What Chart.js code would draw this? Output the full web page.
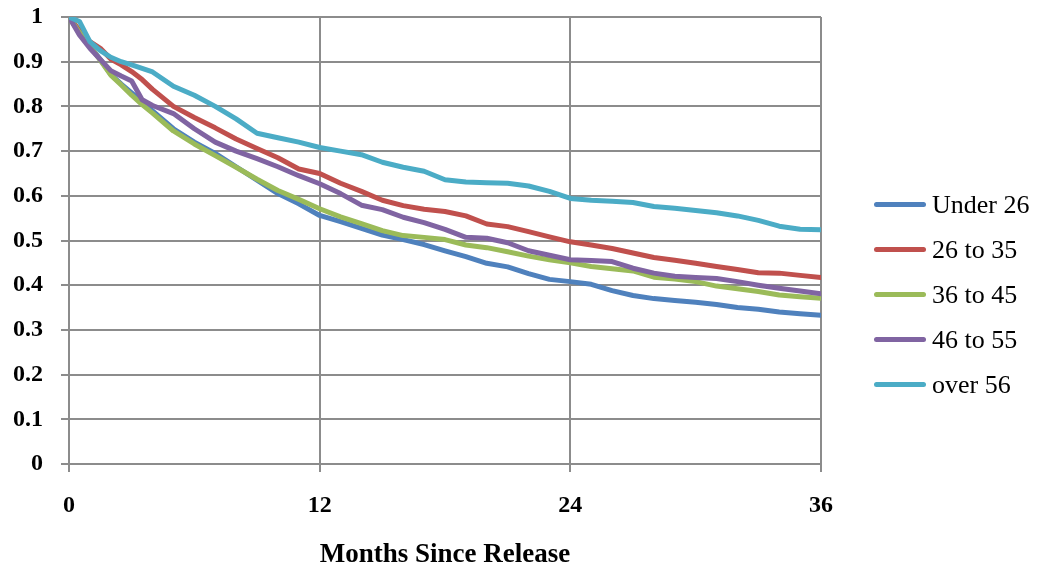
<!DOCTYPE html>
<html>
<head>
<meta charset="utf-8">
<script src="https://cdn.jsdelivr.net/npm/chart.js@4/dist/chart.umd.min.js"></script>
<style>
  html, body { margin: 0; padding: 0; background: #fff; }
  #wrap { position: relative; width: 1039px; height: 571px; }
  #legenda { position: absolute; left: 871px; top: 182px; font-family: 'Liberation Serif'; font-size: 26px; color: #000; }
  .item { height: 45px; display: flex; align-items: center; white-space: nowrap; }
  .traco { width: 52px; height: 5px; border-radius: 3px; margin: 0 6px 0 3px; }
</style>
</head>
<body>
<div id="wrap">
  <canvas id="grafico" width="1039" height="571"></canvas>
  <div id="legenda"></div>
</div>
<script>
// meses desde a soltura
var meses = [0, 0.5, 1, 1.5, 2, 2.5, 3, 3.5, 4, 5, 6, 7, 8, 9, 10, 11, 12, 13, 14, 15, 16, 17, 18,
  19, 20, 21, 22, 23, 24, 25, 26, 27, 28, 29, 30, 31, 32, 33, 34, 35, 36];

var under26 = [1, 0.965, 0.935, 0.905, 0.872, 0.85, 0.83, 0.81, 0.79, 0.75, 0.72, 0.695, 0.665, 0.635,
  0.605, 0.582, 0.556, 0.542, 0.527, 0.512, 0.502, 0.491, 0.477, 0.464, 0.449, 0.441, 0.426, 0.413,
  0.408, 0.402, 0.388, 0.377, 0.37, 0.366, 0.362, 0.357, 0.35, 0.346, 0.34, 0.336, 0.333];
var de26a35 = [1, 0.97, 0.945, 0.93, 0.906, 0.893, 0.878, 0.86, 0.838, 0.8, 0.775, 0.752, 0.727, 0.706,
  0.685, 0.66, 0.65, 0.628, 0.61, 0.59, 0.578, 0.57, 0.565, 0.555, 0.537, 0.531, 0.52, 0.508,
  0.497, 0.49, 0.482, 0.472, 0.462, 0.456, 0.449, 0.442, 0.435, 0.428, 0.427, 0.422, 0.417];
var de36a45 = [1, 0.965, 0.935, 0.903, 0.87, 0.848, 0.825, 0.804, 0.785, 0.745, 0.716, 0.69, 0.664, 0.637,
  0.612, 0.592, 0.571, 0.553, 0.538, 0.522, 0.511, 0.507, 0.502, 0.49, 0.484, 0.475, 0.465, 0.457,
  0.45, 0.442, 0.437, 0.432, 0.418, 0.414, 0.408, 0.398, 0.392, 0.386, 0.378, 0.374, 0.371];
var de46a55 = [1, 0.96, 0.93, 0.905, 0.88, 0.868, 0.857, 0.815, 0.802, 0.784, 0.75, 0.72, 0.7, 0.683,
  0.665, 0.645, 0.627, 0.605, 0.579, 0.569, 0.552, 0.54, 0.525, 0.507, 0.505, 0.495, 0.477, 0.467,
  0.457, 0.455, 0.453, 0.438, 0.427, 0.42, 0.417, 0.415, 0.408, 0.4, 0.393, 0.387, 0.381];
var over56 = [1, 0.99, 0.945, 0.925, 0.91, 0.9, 0.893, 0.885, 0.877, 0.845, 0.825, 0.8, 0.772, 0.74,
  0.73, 0.72, 0.708, 0.7, 0.692, 0.675, 0.664, 0.655, 0.636, 0.631, 0.629, 0.628, 0.622, 0.61,
  0.594, 0.59, 0.588, 0.585, 0.576, 0.572, 0.567, 0.562, 0.555, 0.545, 0.532, 0.525, 0.524];

var nomes = ['Under 26', '26 to 35', '36 to 45', '46 to 55', 'over 56'];
var cores = ['#4F81BD', '#C0504D', '#9BBB59', '#8064A2', '#4BACC6'];
var series = [under26, de26a35, de36a45, de46a55, over56];
var ticksX = [0, 12, 24, 36];
var ticksY = [0, 0.1, 0.2, 0.3, 0.4, 0.5, 0.6, 0.7, 0.8, 0.9, 1];

var grade = '#8c8c8c';
var fonte = 'Liberation Serif';

var datasets = series.map(function (vals, i) {
  return {
    label: nomes[i],
    data: vals.map(function (v, k) { return { x: meses[k], y: v }; }),
    borderColor: cores[i],
    backgroundColor: cores[i],
    borderWidth: 5,
    pointRadius: 0,
    tension: 0,
    fill: false,
    borderJoinStyle: 'round',
    borderCapStyle: 'round',
    order: series.length - i // o ultimo fica por cima, como no excel
  };
});

// legenda na direita (html)
var leg = document.getElementById('legenda');
nomes.forEach(function (n, i) {
  var it = document.createElement('div');
  it.className = 'item';
  var tr = document.createElement('span');
  tr.className = 'traco';
  tr.style.background = cores[i];
  it.appendChild(tr);
  it.appendChild(document.createTextNode(n));
  leg.appendChild(it);
});

const ctx = document.getElementById('grafico');

new Chart(ctx, {
  type: 'line',
  data: { datasets: datasets },
  options: {
    responsive: false,
    animation: false,
    maintainAspectRatio: false,
    layout: { padding: { top: 3, left: 12, right: 218, bottom: 0 } },
    plugins: {
      tooltip: { enabled: false },
      legend: { display: false }
    },
    scales: {
      x: {
        type: 'linear',
        min: 0,
        max: 36,
        afterBuildTicks: function (axis) {
          axis.ticks = ticksX.map(function (v) { return { value: v }; });
        },
        afterFit: function (s) { s.height = 107; },
        grid: { color: grade, lineWidth: 2, tickLength: 8 },
        border: { color: grade, width: 2 },
        ticks: {
          font: { family: fonte, size: 24, weight: 'bold' },
          color: '#000',
          padding: 19,
          maxRotation: 0
        },
        title: {
          display: true,
          text: 'Months Since Release',
          font: { family: fonte, size: 27, weight: 'bold' },
          color: '#000',
          padding: { top: 6, bottom: 0 }
        }
      },
      y: {
        min: 0,
        max: 1,
        afterBuildTicks: function (axis) {
          axis.ticks = ticksY.map(function (v) { return { value: v }; });
        },
        afterFit: function (s) { s.width = 57; s.paddingTop = 17; s.paddingBottom = 0; },
        grid: { color: grade, lineWidth: 2, tickLength: 8 },
        border: { color: grade, width: 2 },
        ticks: {
          font: { family: fonte, size: 24, weight: 'bold' },
          color: '#000',
          padding: 18,
          callback: function (v) { return String(Math.round(v * 10) / 10); }
        }
      }
    }
  }
});
</script>
</body>
</html>
